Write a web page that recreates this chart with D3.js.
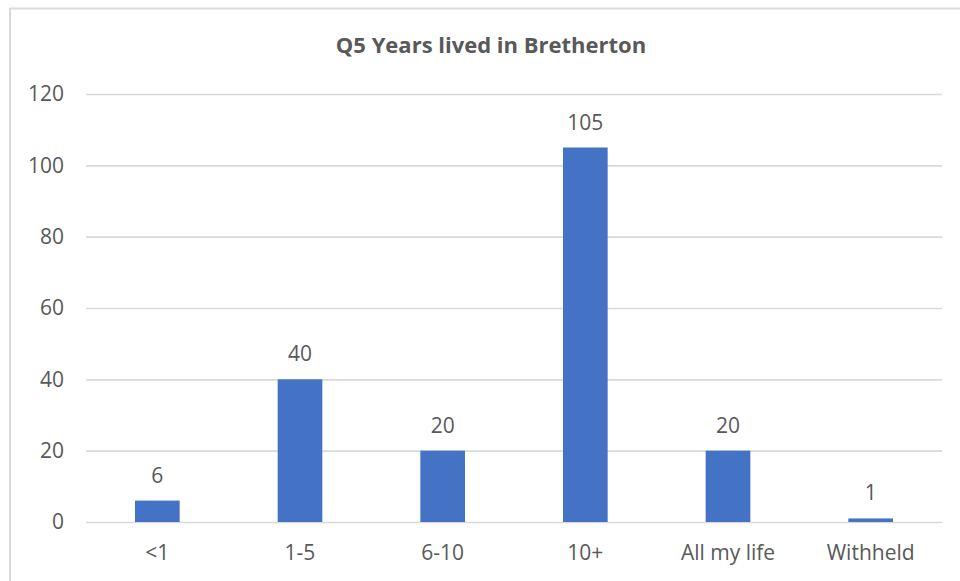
<!DOCTYPE html>
<html><head><meta charset="utf-8">
<script src="https://cdn.jsdelivr.net/npm/d3@7"></script>
<style>body{margin:0;background:#fff;} svg{display:block;}</style>
</head><body>
<svg id="c" width="960" height="581"></svg>
<script>
const categories = ["<1","1-5","6-10","10+","All my life","Withheld"];
const values = [6,40,20,105,20,1];
const yTicks = [0,20,40,60,80,100,120];
const title = "Q5 Years lived in Bretherton";

const svg = d3.select("#c");
const font = "'Open Sans', 'Liberation Sans', sans-serif";
const txt = "#595959";

// chart border
svg.append("rect").attr("x",10).attr("y",8.5).attr("width",960).attr("height",600)
  .attr("fill","#fff").attr("stroke","#d9d9d9").attr("stroke-width",2);

const m = {left:86, right:942, top:94, bottom:522};
const x = d3.scaleBand().domain(categories).range([m.left,m.right]).paddingInner(0.687).paddingOuter(0.3435);
const y = d3.scaleLinear().domain([0,120]).range([m.bottom,m.top]);

svg.append("text").attr("x",491).attr("y",53).attr("text-anchor","middle")
  .attr("font-family",font).attr("font-weight","bold").attr("font-size",22).attr("fill",txt).text(title);

const yAxis = svg.append("g").attr("transform",`translate(${m.left},0)`)
  .call(d3.axisLeft(y).tickValues(yTicks).tickSize(-(m.right-m.left)).tickPadding(22));
yAxis.select(".domain").remove();
yAxis.selectAll(".tick line").attr("stroke","#d9d9d9").attr("stroke-width",1.6);
yAxis.selectAll(".tick text").attr("font-family",font).attr("font-size",21).attr("fill",txt);

svg.selectAll("rect.bar").data(values).join("rect").attr("class","bar")
  .attr("x",(d,i)=>x(categories[i])).attr("width",x.bandwidth())
  .attr("y",d=>y(d)).attr("height",d=>y(0)-y(d)).attr("fill","#4472c4");

svg.selectAll("text.lbl").data(values).join("text").attr("class","lbl")
  .attr("x",(d,i)=>x(categories[i])+x.bandwidth()/2).attr("y",d=>y(d)-18)
  .attr("text-anchor","middle").attr("font-family",font).attr("font-size",21).attr("fill",txt).text(d=>d);

const xAxis = svg.append("g").attr("transform",`translate(0,${m.bottom})`)
  .call(d3.axisBottom(x).tickSize(0).tickPadding(23));
xAxis.select(".domain").remove();
xAxis.selectAll(".tick text").attr("font-family",font).attr("font-size",21).attr("fill",txt);
</script>
</body></html>
